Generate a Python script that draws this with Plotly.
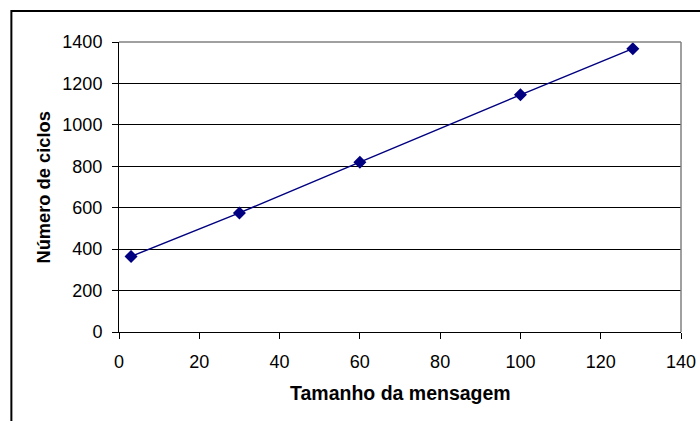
import plotly.graph_objects as go

# Message size vs. cycle count
tamanho = [3, 30, 60, 100, 128]
ciclos = [365, 575, 820, 1145, 1368]

x_ticks = [0, 20, 40, 60, 80, 100, 120, 140]
y_ticks = [0, 200, 400, 600, 800, 1000, 1200, 1400]

FONT = "Liberation Sans, Arial, sans-serif"
NAVY = "#000080"

fig = go.Figure()
fig.add_trace(go.Scatter(
    x=tamanho, y=ciclos, mode="lines+markers",
    line=dict(color=NAVY, width=1.5),
    marker=dict(symbol="diamond", size=10, color=NAVY),
    showlegend=False,
    cliponaxis=False,
))

fig.update_layout(
    width=700, height=421,
    margin=dict(l=119, r=19, t=42, b=89, autoexpand=False),
    paper_bgcolor="white", plot_bgcolor="white",
    font=dict(family=FONT, size=18, color="black"),
    xaxis=dict(
        range=[0, 140], tickvals=x_ticks, ticks="outside", ticklen=6,
        tickcolor="black", showline=True, linecolor="black", linewidth=1,
        showgrid=False, zeroline=False, fixedrange=True,
        ticklabelstandoff=7, automargin=False,
    ),
    yaxis=dict(
        range=[0, 1400], tickvals=y_ticks, ticks="outside", ticklen=6,
        tickcolor="black", showline=True, linecolor="black", linewidth=1,
        showgrid=True, gridcolor="black", gridwidth=1, zeroline=False,
        fixedrange=True, ticklabelstandoff=6, automargin=False,
    ),
    shapes=[
        # gray plot-area border on top and right
        dict(type="line", xref="paper", yref="paper", x0=0, x1=1, y0=1, y1=1,
             line=dict(color="#808080", width=1.5)),
        dict(type="line", xref="paper", yref="paper", x0=1, x1=1, y0=0, y1=1,
             line=dict(color="#808080", width=1.5)),
        # outer chart frame
        dict(type="rect", xref="paper", yref="paper",
             x0=-0.1915, x1=1.2, y0=-0.5, y1=1.107,
             line=dict(color="black", width=2), layer="above"),
    ],
    annotations=[
        dict(text="<b>Tamanho da mensagem</b>", xref="paper", yref="paper",
             x=0.5, y=-0.21, xanchor="center", yanchor="middle",
             showarrow=False, font=dict(size=19.5)),
        dict(text="<b>Número de ciclos</b>", xref="paper", yref="paper",
             x=-0.134, y=0.497, xanchor="center", yanchor="middle",
             textangle=-90, showarrow=False, font=dict(size=18.3)),
    ],
)

fig.write_html("out.html")
